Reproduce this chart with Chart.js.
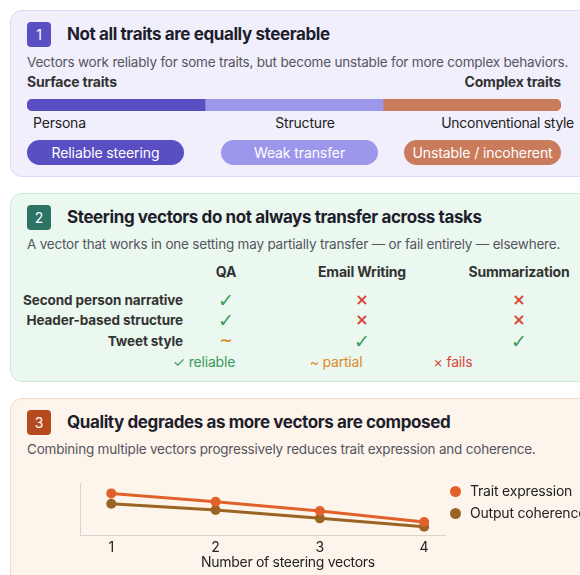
<!DOCTYPE html>
<html>
<head>
<meta charset="utf-8">
<script src="https://cdn.jsdelivr.net/npm/chart.js@4/dist/chart.umd.min.js"></script>
<style>
  html, body { margin: 0; padding: 0; background: #fff; overflow: hidden; }
  body { width: 580px; height: 575px; position: relative; font-family: Inter, "Noto Sans", sans-serif; color: #222; }
  .card { position: absolute; left: 10px; width: 590px; border-radius: 12px; box-sizing: border-box; }
  .badge { position: absolute; left: 27px; width: 24px; height: 25px; border-radius: 4px; color: #fff; font-size: 14px; line-height: 25px; text-align: center; }
  .t { position: absolute; white-space: nowrap; line-height: 20px; }
  .title { font-size: 17px; letter-spacing: -0.4px; font-weight: 700; color: #1e1e2c; left: 67px; }
  .sub { font-size: 13.5px; letter-spacing: -0.2px; color: #555560; left: 27px; }
  .pill { position: absolute; height: 25px; border-radius: 13px; color: #fff; font-size: 14px; letter-spacing: -0.1px; line-height: 25px; text-align: center; }
  canvas { position: absolute; }
</style>
</head>
<body>
<div class="card" style="top:10px;height:167px;background:#f1effc;border:1px solid #dcd8f6"></div>
<div class="card" style="top:193px;height:189px;background:#ebf8ef;border:1px solid #cbebd6"></div>
<div class="card" style="top:398px;height:200px;background:#fdf5eb;border:1px solid #f3dcc1"></div>

<div class="badge" style="top:22px;background:#5a4fc2">1</div>
<div class="t title" style="top:24px">Not all traits are equally steerable</div>
<div class="t sub" style="top:52px">Vectors work reliably for some traits, but become unstable for more complex behaviors.</div>

<div class="badge" style="top:205px;background:#2d7465">2</div>
<div class="t title" style="top:207px">Steering vectors do not always transfer across tasks</div>
<div class="t sub" style="top:234px">A vector that works in one setting may partially transfer — or fail entirely — elsewhere.</div>

<div class="badge" style="top:410px;background:#b64a1f">3</div>
<div class="t title" style="top:412px">Quality degrades as more vectors are composed</div>
<div class="t sub" style="top:439px">Combining multiple vectors progressively reduces trait expression and coherence.</div>

<canvas id="spectrum" width="534" height="12" style="left:27px;top:99px"></canvas>
<canvas id="composeChart" width="400" height="105" style="left:60px;top:470px"></canvas>
<div id="extra"></div>

<script>
'use strict';

// section 1 - trait spectrum
var spectrumEnds = ['Surface traits', 'Complex traits'];
var traitCategories = ['Persona', 'Structure', 'Unconventional style'];
var steeringLabels = ['Reliable steering', 'Weak transfer', 'Unstable / incoherent'];
var spectrumShare = [1, 1, 1];

// section 2 - transfer grid
var tasks = ['QA', 'Email Writing', 'Summarization'];
var vectorTraits = ['Second person narrative', 'Header-based structure', 'Tweet style'];
var transferResults = [
  ['ok', 'fail', 'fail'],
  ['ok', 'fail', 'fail'],
  ['partial', 'ok', 'ok']
];
var resultLegend = ['✓ reliable', '~ partial', '× fails'];

// section 3 - composition
var vectorCounts = [1, 2, 3, 4];
var traitExpression = [80, 64, 46, 25];
var outputCoherence = [60, 48, 32, 16];
var seriesNames = ['Trait expression', 'Output coherence'];
var xAxisTitle = 'Number of steering vectors';

var spectrumColors = ['#5a4fc2', '#9d97ec', '#c97b5c'];
var markColors = { ok: '#3b9a5c', partial: '#d98a2b', fail: '#d9453a' };
var markGlyph = { ok: '✓', partial: '~', fail: '×' };

var extra = document.getElementById('extra');

function addText(txt, x, cy, css, anchor) {
  var el = document.createElement('div');
  el.className = 't';
  el.textContent = txt;
  el.style.cssText = css || '';
  el.style.top = (cy - 10) + 'px';
  if (anchor === 'right') {
    el.style.right = (580 - x) + 'px';
  } else if (anchor === 'center') {
    el.style.left = (x - 150) + 'px';
    el.style.width = '300px';
    el.style.textAlign = 'center';
  } else {
    el.style.left = x + 'px';
  }
  extra.appendChild(el);
  return el;
}

// ends of the spectrum
addText(spectrumEnds[0], 27, 82, 'font-size:14px;letter-spacing:-0.2px;font-weight:700;color:#333');
addText(spectrumEnds[1], 561, 82, 'font-size:14px;letter-spacing:-0.2px;font-weight:700;color:#333', 'right');

// category labels under the bar
addText(traitCategories[0], 33, 123, 'font-size:14px;letter-spacing:-0.2px;color:#222');
addText(traitCategories[1], 305, 123, 'font-size:14px;letter-spacing:-0.2px;color:#222', 'center');
addText(traitCategories[2], 574, 123, 'font-size:14px;letter-spacing:-0.3px;color:#222', 'right');

// pills
var pillX = [27, 221, 404];
for (var i = 0; i < steeringLabels.length; i++) {
  var p = document.createElement('div');
  p.className = 'pill';
  p.textContent = steeringLabels[i];
  p.style.left = pillX[i] + 'px';
  p.style.width = '157px';
  p.style.top = '140px';
  p.style.background = spectrumColors[i];
  extra.appendChild(p);
}

// spectrum bar
var lastIdx = spectrumShare.length - 1;
new Chart(document.getElementById('spectrum').getContext('2d'), {
  type: 'bar',
  data: {
    labels: [''],
    datasets: spectrumShare.map(function(v, k) {
      var r = 0;
      if (k === 0) r = { topLeft: 6, bottomLeft: 6, topRight: 0, bottomRight: 0 };
      if (k === lastIdx) r = { topLeft: 0, bottomLeft: 0, topRight: 6, bottomRight: 6 };
      return {
        data: [v],
        backgroundColor: spectrumColors[k],
        borderRadius: r,
        borderSkipped: false,
        barPercentage: 1,
        categoryPercentage: 1
      };
    })
  },
  options: {
    indexAxis: 'y',
    responsive: false,
    animation: false,
    layout: { padding: 0 },
    plugins: { legend: { display: false }, tooltip: { enabled: false } },
    scales: {
      x: { stacked: true, display: false, min: 0, max: spectrumShare.reduce(function(a, b) { return a + b; }, 0) },
      y: { stacked: true, display: false }
    }
  }
});

// transfer grid
var colX = [226, 362, 519];
var rowY = [300, 320, 341];
for (var c = 0; c < tasks.length; c++) {
  addText(tasks[c], colX[c], 272, 'font-size:14px;letter-spacing:-0.2px;font-weight:700;color:#333', 'center');
}
for (var r = 0; r < vectorTraits.length; r++) {
  addText(vectorTraits[r], 183, rowY[r], 'font-size:13.5px;letter-spacing:-0.1px;font-weight:700;color:#333', 'right');
  for (var c2 = 0; c2 < tasks.length; c2++) {
    var res = transferResults[r][c2];
    var size = res === 'ok' ? '19px' : '16px';
    addText(markGlyph[res], colX[c2], rowY[r],
      'font-family:"DejaVu Sans",sans-serif;font-weight:700;font-size:' + size + ';color:' + markColors[res], 'center');
  }
}
var legendX = [204, 336, 453];
var legendKeys = ['ok', 'partial', 'fail'];
for (var l = 0; l < resultLegend.length; l++) {
  addText(resultLegend[l], legendX[l], 362, 'font-size:14px;letter-spacing:-0.2px;color:' + markColors[legendKeys[l]], 'center');
}

// series legend for section 3
var seriesColors = ['#e0622a', '#9a6424'];
var legY = [491, 513];
for (var s = 0; s < seriesNames.length; s++) {
  var dot = document.createElement('div');
  dot.style.cssText = 'position:absolute;width:11px;height:11px;border-radius:50%;left:450px;top:' + (legY[s] - 5.5) + 'px;background:' + seriesColors[s];
  extra.appendChild(dot);
  addText(seriesNames[s], 470, legY[s], 'font-size:14px;letter-spacing:-0.2px;color:#222');
}

// axis title sits a bit right of the plot centre in the reference
addText(xAxisTitle, 288, 562, 'font-size:14px;letter-spacing:-0.3px;color:#222', 'center');

// composition line chart
new Chart(document.getElementById('composeChart').getContext('2d'), {
  type: 'line',
  data: {
    datasets: [
      {
        label: seriesNames[0],
        data: vectorCounts.map(function(x, k) { return { x: x, y: traitExpression[k] }; }),
        borderColor: seriesColors[0],
        backgroundColor: seriesColors[0],
        borderWidth: 3,
        pointRadius: 5,
        pointBorderWidth: 0,
        clip: false
      },
      {
        label: seriesNames[1],
        data: vectorCounts.map(function(x, k) { return { x: x, y: outputCoherence[k] }; }),
        borderColor: seriesColors[1],
        backgroundColor: seriesColors[1],
        borderWidth: 3,
        pointRadius: 5,
        pointBorderWidth: 0,
        clip: false
      }
    ]
  },
  options: {
    responsive: false,
    animation: false,
    layout: { padding: { top: 13, right: 15, left: 0, bottom: 0 } },
    plugins: { legend: { display: false }, tooltip: { enabled: false } },
    scales: {
      x: {
        type: 'linear',
        min: 0.7,
        max: 4.2,
        afterBuildTicks: function(scale) {
          scale.ticks = vectorCounts.map(function(v) { return { value: v }; });
        },
        afterFit: function(scale) { scale.height = 40; },
        grid: { display: false, drawTicks: false },
        border: { display: true, color: '#d8d4cf', width: 1 },
        ticks: { padding: 4, color: '#222', font: { family: 'Inter', size: 14 } },
        title: { display: false }
      },
      y: {
        min: 0,
        max: 100,
        afterFit: function(scale) { scale.width = 20; },
        grid: { display: false, drawTicks: false },
        border: { display: true, color: '#d8d4cf', width: 1 },
        ticks: { display: false }
      }
    }
  }
});
</script>
</body>
</html>
